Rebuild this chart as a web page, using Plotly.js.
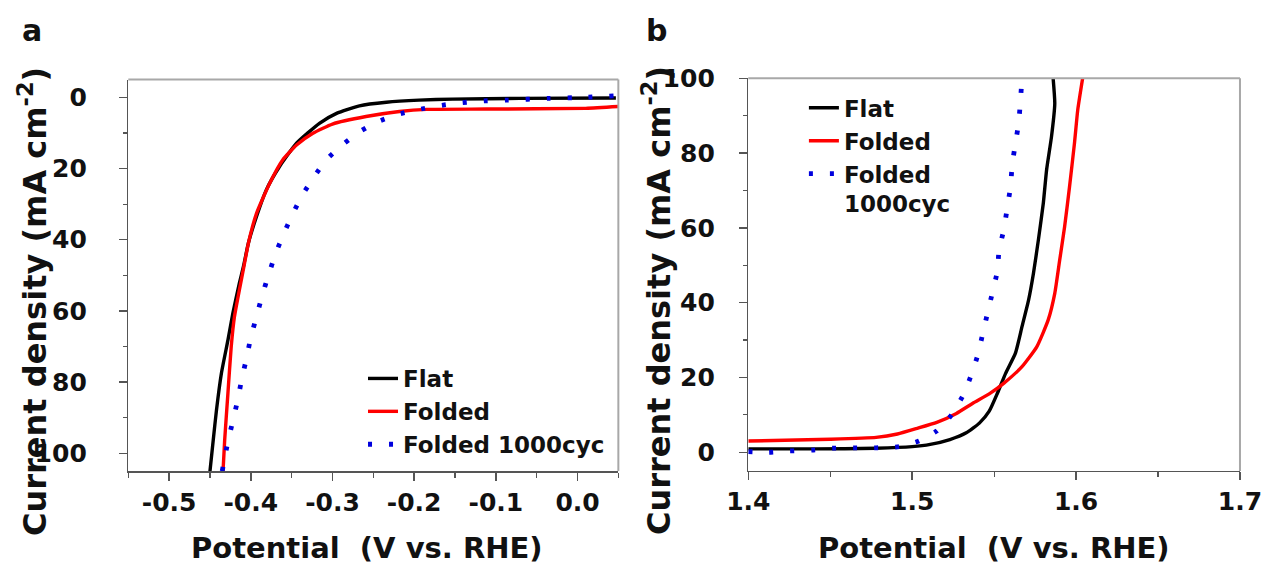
<!DOCTYPE html>
<html>
<head>
<meta charset="utf-8">
<script src="https://cdn.plot.ly/plotly-3.0.1.min.js"></script>
<style>html,body{margin:0;padding:0;background:#fff;}#chart{width:1264px;height:568px;}</style>
</head>
<body>
<div id="chart"></div>
<script>
// ---------- Panel a (HER) ----------
const aFlatX = [-0.450,-0.446,-0.442,-0.436,-0.428,-0.422,-0.414,-0.409,-0.403,-0.393,-0.381,-0.365,-0.344,-0.316,-0.295,-0.267,-0.234,-0.194,-0.153,-0.071,0.047];
const aFlatY = [105,96.3,87.8,77.5,68.2,60.7,52.2,47.5,41.0,33.5,26.0,19.5,12.9,7.3,4.5,2.4,1.4,0.8,0.5,0.3,0.2];
const aFoldX = [-0.434,-0.432,-0.428,-0.424,-0.420,-0.414,-0.408,-0.403,-0.393,-0.377,-0.361,-0.344,-0.324,-0.300,-0.259,-0.218,-0.185,-0.112,0.010,0.050];
const aFoldY = [105,96.3,83.1,70.1,61.6,54.1,47.0,41.0,32.6,24.2,17.6,13.4,10.1,7.5,5.4,4.0,3.4,3.3,3.1,2.6];
const aCycX = [-0.435,-0.433,-0.428,-0.422,-0.416,-0.411,-0.405,-0.400,-0.393,-0.386,-0.378,-0.370,-0.360,-0.349,-0.337,-0.323,-0.307,-0.287,-0.267,-0.245,-0.220,-0.194,-0.168,-0.141,-0.114,-0.088,-0.035,0.010,0.045];
const aCycY = [105,102.5,96.7,90.9,85.0,79.0,73.1,67.4,61.6,55.6,49.7,44.1,38.5,32.9,27.5,22.5,17.4,13.2,9.7,6.9,4.8,3.4,2.3,1.5,1.0,0.8,0.3,0.0,-0.4];
const aXTickVals = [-0.5,-0.4,-0.3,-0.2,-0.1,0.0];
const aXTickText = ['-0.5','-0.4','-0.3','-0.2','-0.1','0.0'];
const aYTickVals = [0,20,40,60,80,100];

// ---------- Panel b (OER) ----------
const bFlatX = [1.400,1.440,1.478,1.500,1.511,1.523,1.533,1.541,1.547,1.552,1.557,1.563,1.567,1.571,1.574,1.577,1.580,1.582,1.585,1.587,1.586];
const bFlatY = [0.9,0.9,1.07,1.5,2.1,3.4,5.2,7.8,11.0,15.8,21.1,26.5,33.6,40.7,47.9,56.8,66.6,75.5,84.4,93.3,100];
const bFoldX = [1.400,1.450,1.478,1.491,1.503,1.515,1.527,1.537,1.547,1.556,1.567,1.576,1.583,1.587,1.590,1.593,1.596,1.599,1.601,1.604];
const bFoldY = [3.0,3.5,4.0,4.9,6.4,8.0,10.4,13.1,15.6,18.5,22.9,28.2,35.4,42.5,51.4,60.3,71.0,82.6,91.5,100];
const bCycX = [1.400,1.412,1.425,1.439,1.452,1.465,1.478,1.492,1.504,1.515,1.524,1.531,1.536,1.540,1.543,1.546,1.549,1.552,1.553,1.556,1.558,1.560,1.561,1.563,1.565,1.566,1.567];
const bCycY = [0.2,0,0.35,0.6,1.1,1.2,1.2,1.5,3.0,5.7,10.0,15.2,20.6,26.0,31.6,37.3,42.8,48.5,54.1,59.7,65.4,71.0,76.8,82.6,88.2,93.7,100];
const bXTickVals = [1.4,1.5,1.6,1.7];
const bXTickText = ['1.4','1.5','1.6','1.7'];
const bYTickVals = [0,20,40,60,80,100];

const namesA = ['Flat','Folded','Folded 1000cyc'];
const namesB = ['Flat','Folded','Folded<br>1000cyc'];
const xTitle = 'Potential\u00a0 (V vs. RHE)';
const yTitle = 'Current density (mA cm<sup>-2</sup>)';

const FONT = 'DejaVu Sans';
const BLACK = '#000000', RED = '#ff0000', BLUE = '#0000dd';

const solid = (c) => ({color:c, width:3.4, shape:'spline', smoothing:0.5});
const dotted = {color:BLUE, width:4.8, dash:'4px,17px', shape:'spline', smoothing:0.5};

const traces = [
  {x:aFlatX, y:aFlatY, name:namesA[0], mode:'lines', line:solid(BLACK), xaxis:'x', yaxis:'y', legend:'legend'},
  {x:aFoldX, y:aFoldY, name:namesA[1], mode:'lines', line:solid(RED), xaxis:'x', yaxis:'y', legend:'legend'},
  {x:aCycX, y:aCycY, name:namesA[2], mode:'lines', line:dotted, xaxis:'x', yaxis:'y', legend:'legend'},
  {x:bFlatX, y:bFlatY, name:namesB[0], mode:'lines', line:solid(BLACK), xaxis:'x2', yaxis:'y2', legend:'legend2'},
  {x:bFoldX, y:bFoldY, name:namesB[1], mode:'lines', line:solid(RED), xaxis:'x2', yaxis:'y2', legend:'legend2'},
  {x:bCycX, y:bCycY, name:namesB[2], mode:'lines', line:dotted, xaxis:'x2', yaxis:'y2', legend:'legend2'}
];

const tickFont = {family:FONT, size:25, color:'#111', weight:'bold'};
function axis(extra){
  return Object.assign({
    showline:true, linecolor:'#555', linewidth:1.5, mirror:false,
    ticks:'outside', ticklen:8, tickwidth:1.5, tickcolor:'#555',
    showgrid:false, zeroline:false, tickfont:tickFont,
    automargin:false, fixedrange:true
  }, extra);
}
const minorX = {dtick:0.05, ticks:'outside', ticklen:5, tickwidth:1.2, tickcolor:'#555'};
const minorY = {dtick:10, ticks:'outside', ticklen:4, tickwidth:1.2, tickcolor:'#555'};

const layout = {
  width:1264, height:568,
  margin:{l:0, r:0, t:0, b:0},
  paper_bgcolor:'#fff', plot_bgcolor:'#fff',
  font:{family:FONT, color:'#111'},
  xaxis: axis({domain:[0.1015,0.4892], anchor:'y', range:[-0.55,0.05], tickmode:'array', tickvals:aXTickVals, ticktext:aXTickText,
               ticklabelstandoff:0, minor:Object.assign({tickmode:'linear', tick0:0}, minorX)}),
  yaxis: axis({domain:[0.1706,0.8600], anchor:'x', range:[105,-5], tickmode:'array', tickvals:aYTickVals,
               ticklabelstandoff:27, minor:Object.assign({tickmode:'linear', tick0:0}, minorY)}),
  xaxis2: axis({domain:[0.5920,0.9810], anchor:'y2', range:[1.4,1.7], tickmode:'array', tickvals:bXTickVals, ticktext:bXTickText,
               ticklabelstandoff:0, minor:Object.assign({tickmode:'linear', tick0:1.4}, minorX)}),
  yaxis2: axis({domain:[0.1708,0.8621], anchor:'x2', range:[-5,100], tickmode:'array', tickvals:bYTickVals,
               ticklabelstandoff:19, minor:Object.assign({tickmode:'linear', tick0:0}, minorY)}),
  showlegend:true,
  legend:{x:0.2872, y:0.3715, xanchor:'left', yanchor:'top', bgcolor:'rgba(0,0,0,0)', borderwidth:0,
          font:{family:FONT, size:23, color:'#111', weight:'bold'}, tracegroupgap:0},
  legend2:{x:0.636, y:0.848, xanchor:'left', yanchor:'top', bgcolor:'rgba(0,0,0,0)', borderwidth:0, valign:'top',
          font:{family:FONT, size:23, color:'#111', weight:'bold'}, tracegroupgap:0},
  shapes:[
    {type:'line', xref:'x domain', yref:'y domain', x0:0, x1:1, y0:1, y1:1, line:{color:'#a8a8a8', width:2}},
    {type:'line', xref:'x domain', yref:'y domain', x0:1, x1:1, y0:0, y1:1, line:{color:'#a8a8a8', width:2}},
    {type:'line', xref:'x2 domain', yref:'y2 domain', x0:0, x1:1, y0:1, y1:1, line:{color:'#a8a8a8', width:2}},
    {type:'line', xref:'x2 domain', yref:'y2 domain', x0:1, x1:1, y0:0, y1:1, line:{color:'#a8a8a8', width:2}}
  ],
  annotations:[
    {text:'a', xref:'paper', yref:'paper', x:0.0253, y:0.947, xanchor:'center', yanchor:'middle', showarrow:false,
     font:{family:FONT, size:30, color:'#111', weight:'bold'}},
    {text:'b', xref:'paper', yref:'paper', x:0.519, y:0.947, xanchor:'center', yanchor:'middle', showarrow:false,
     font:{family:FONT, size:30, color:'#111', weight:'bold'}},
    {text:xTitle, xref:'paper', yref:'paper', x:0.2904, y:0.035, xanchor:'center', yanchor:'middle', showarrow:false,
     font:{family:FONT, size:29, color:'#111', weight:'bold'}},
    {text:xTitle, xref:'paper', yref:'paper', x:0.7864, y:0.035, xanchor:'center', yanchor:'middle', showarrow:false,
     font:{family:FONT, size:29, color:'#111', weight:'bold'}},
    {text:yTitle, xref:'paper', yref:'paper', x:0.0261, y:0.47, xanchor:'center', yanchor:'middle', textangle:-90, showarrow:false,
     font:{family:FONT, size:32, color:'#111', weight:'bold'}},
    {text:yTitle, xref:'paper', yref:'paper', x:0.5198, y:0.47, xanchor:'center', yanchor:'middle', textangle:-90, showarrow:false,
     font:{family:FONT, size:32, color:'#111', weight:'bold'}}
  ]
};

Plotly.newPlot('chart', traces, layout, {displayModeBar:false, staticPlot:true});
</script>
</body>
</html>
